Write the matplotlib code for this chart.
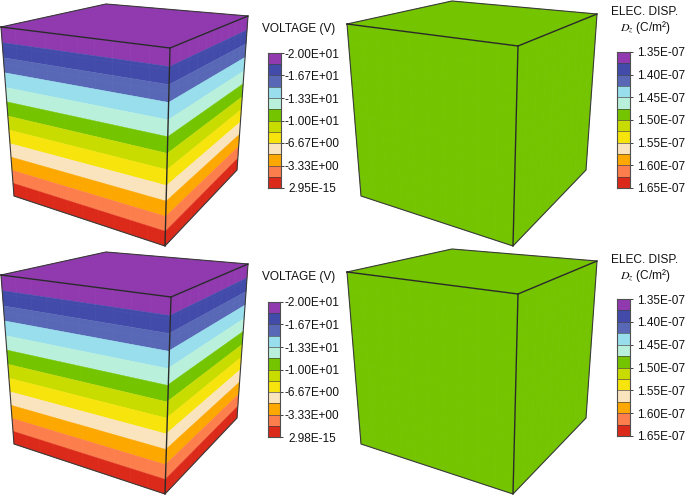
import numpy as np
import matplotlib
matplotlib.use("Agg")
import matplotlib.pyplot as plt

plt.rcParams['font.family'] = ['Liberation Sans', 'DejaVu Sans']
plt.rcParams['mathtext.fontset'] = 'stix'

W, H = 685, 495

band_colors = ['#913ab0', '#424baa', '#5868b6', '#98deec', '#b9f0dc', '#74c400',
               '#c8dc00', '#f6e40c', '#fae4be', '#fca800', '#fc7e4c', '#dc2a1a']

# band edges of the colour scales
voltage_levels = [-20.0, -18.33, -16.67, -15.0, -13.33, -11.67, -10.0,
                  -8.33, -6.67, -5.0, -3.33, -1.67, 0.0]
disp_levels = [1.35e-7, 1.375e-7, 1.40e-7, 1.425e-7, 1.45e-7, 1.475e-7, 1.50e-7,
               1.525e-7, 1.55e-7, 1.575e-7, 1.60e-7, 1.625e-7, 1.65e-7]

voltage_labels_top = ['-2.00E+01', '-1.67E+01', '-1.33E+01', '-1.00E+01',
                      '-6.67E+00', '-3.33E+00', '2.95E-15']
voltage_labels_bottom = ['-2.00E+01', '-1.67E+01', '-1.33E+01', '-1.00E+01',
                         '-6.67E+00', '-3.33E+00', '2.98E-15']
disp_labels = ['1.35E-07', '1.40E-07', '1.45E-07', '1.50E-07',
               '1.55E-07', '1.60E-07', '1.65E-07']

disp_field = 1.49e-7

# cube corners in pixels: left, back, right, front (top) then left, front, right (bottom)
cube_tl = dict(lt=(1, 27), bt=(106, 4), rt=(248, 16), ft=(170, 48),
               lb=(14, 196), fb=(165, 246), rb=(237, 170))
cube_bl = dict(lt=(1, 275), bt=(106, 252), rt=(248, 264), ft=(171, 297),
               lb=(14, 444), fb=(165, 494), rb=(237, 418))
cube_tr = dict(lt=(347, 24), bt=(452, 1), rt=(597, 14), ft=(518, 46),
               lb=(361, 196), fb=(513, 246), rb=(586, 170))
cube_br = dict(lt=(347, 272), bt=(452, 249), rt=(597, 261), ft=(518, 294),
               lb=(361, 444), fb=(513, 494), rb=(586, 418))


def face_map(p00, p10, p11, p01):
    # projective map of the unit square on to a cube face
    src = [(0, 0), (1, 0), (1, 1), (0, 1)]
    dst = [p00, p10, p11, p01]
    A, b = [], []
    for (u, v), (x, y) in zip(src, dst):
        A.append([u, v, 1, 0, 0, 0, -u * x, -v * x])
        A.append([0, 0, 0, u, v, 1, -u * y, -v * y])
        b += [x, y]
    h = np.linalg.solve(np.array(A, float), np.array(b, float))
    m = np.append(h, 1).reshape(3, 3)

    def f(u, v):
        q = m @ np.array([u, v, 1.0])
        return q[0] / q[2], q[1] / q[2]
    return f


def draw_face_bands(ax, f, levels):
    lo, hi = levels[0], levels[-1]
    for i, c in enumerate(band_colors):
        v0 = (levels[i] - lo) / (hi - lo)
        v1 = (levels[i + 1] - lo) / (hi - lo)
        pts = [f(0, v0), f(1, v0), f(1, v1), f(0, v1)]
        ax.fill(*zip(*pts), color=c, lw=0.3, zorder=1)


def draw_mesh(ax, f):
    for t in np.linspace(0, 1, 11):
        a, b = f(t, 0), f(t, 1)
        ax.plot([a[0], b[0]], [a[1], b[1]], color='white', lw=0.4, alpha=0.04, zorder=2)
        a, b = f(0, t), f(1, t)
        ax.plot([a[0], b[0]], [a[1], b[1]], color='white', lw=0.4, alpha=0.04, zorder=2)


def draw_edges(ax, c):
    outer = [c['lt'], c['bt'], c['rt'], c['rb'], c['fb'], c['lb'], c['lt']]
    ax.plot(*zip(*outer), color='#3a3a3a', lw=0.8, zorder=3, solid_joinstyle='round')
    for a, b in [('lt', 'ft'), ('rt', 'ft'), ('ft', 'fb')]:
        ax.plot(*zip(c[a], c[b]), color='#2a2a2a', lw=1.0, zorder=3)


def draw_cube(ax, c, levels, field=None):
    front = face_map(c['lt'], c['ft'], c['fb'], c['lb'])
    side = face_map(c['ft'], c['rt'], c['rb'], c['fb'])
    top = face_map(c['lt'], c['bt'], c['rt'], c['ft'])
    if field is None:
        draw_face_bands(ax, front, levels)
        draw_face_bands(ax, side, levels)
        top_color = band_colors[0]
    else:
        top_color = band_colors[np.searchsorted(levels, field) - 1]
        for k in [front, side]:
            ax.fill(*zip(k(0, 0), k(1, 0), k(1, 1), k(0, 1)), color=top_color, lw=0.3, zorder=1)
    ax.fill(*zip(top(0, 0), top(1, 0), top(1, 1), top(0, 1)), color=top_color, lw=0.3, zorder=1)
    for k in [front, side]:
        draw_mesh(ax, k)
    draw_edges(ax, c)


def draw_scale(fig, box, levels, labels, label_x):
    x0, y0, x1, y1 = box
    cax = fig.add_axes([x0 / W, 1 - y1 / H, (x1 - x0) / W, (y1 - y0) / H])
    lv = np.array(levels)
    for i, c in enumerate(band_colors):
        cax.fill_between([0, 1], lv[i], lv[i + 1], color=c, lw=0)
    for v in levels:
        cax.axhline(v, color='#404040', lw=0.6, alpha=0.75)
    cax.set_xlim(0, 1)
    cax.set_ylim(lv[-1], lv[0])
    cax.set_xticks([])
    cax.set_yticks(lv[::2], labels)
    # tick length counts towards the label offset (2 pt ticks)
    pad = (label_x - x1) * 0.72 - 2
    cax.tick_params(axis='y', left=False, labelleft=False, right=True, labelright=True,
                    length=2, width=0.7, color='#404040', pad=pad, labelsize=8.5,
                    labelcolor='#111111')
    for t in cax.get_yticklabels():
        t.set_ha('center')
    for s in cax.spines.values():
        s.set_linewidth(0.8)
        s.set_color('#505050')


fig = plt.figure(figsize=(W / 100, H / 100), dpi=100)
ax = fig.add_axes([0, 0, 1, 1])
ax.set_xlim(0, W)
ax.set_ylim(H, 0)
ax.axis('off')

draw_cube(ax, cube_tl, voltage_levels)
draw_cube(ax, cube_bl, voltage_levels)
draw_cube(ax, cube_tr, disp_levels, disp_field)
draw_cube(ax, cube_br, disp_levels, disp_field)

draw_scale(fig, (268, 53, 281, 188), voltage_levels, voltage_labels_top, 312)
draw_scale(fig, (268, 302, 280, 437), voltage_levels, voltage_labels_bottom, 312)
draw_scale(fig, (617, 52, 630, 188), disp_levels, disp_labels, 661)
draw_scale(fig, (617, 299, 630, 436), disp_levels, disp_labels, 661)

title_style = dict(ha='center', va='center', fontsize=8.6, color='#111111', zorder=5)
ax.text(299, 29, 'VOLTAGE (V)', **title_style)
ax.text(299, 277, 'VOLTAGE (V)', **title_style)
ax.text(645, 12, 'ELEC. DISP.', **title_style)
ax.text(645, 28, r'$D_z$ (C/m²)', **title_style)
ax.text(645, 260, 'ELEC. DISP.', **title_style)
ax.text(645, 275, r'$D_z$ (C/m²)', **title_style)

fig.savefig('out.png', dpi=100)
